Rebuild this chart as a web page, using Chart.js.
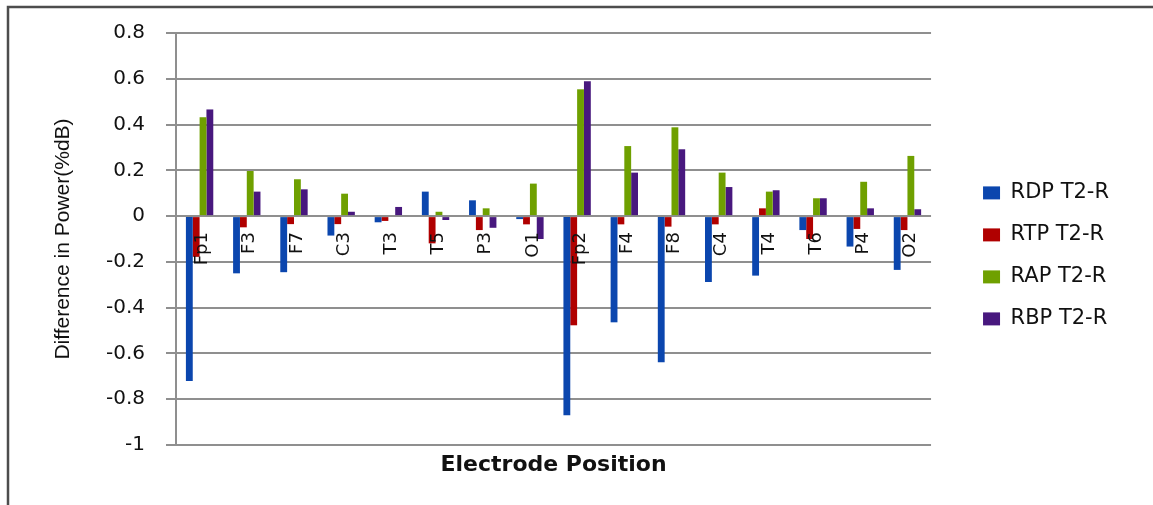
<!DOCTYPE html>
<html>
<head>
<meta charset="utf-8">
<title>Difference in Power by Electrode Position</title>
<script src="https://cdn.jsdelivr.net/npm/chart.js@4/dist/chart.umd.min.js"></script>
<style>
  html, body { margin: 0; padding: 0; background: #ffffff; }
  #wrap { width: 1153px; height: 505px; }
</style>
</head>
<body>
<div id="wrap"><canvas id="chart" width="1153" height="505"></canvas></div>
<script>
// Electrode positions along the category axis
const categories = ['Fp1', 'F3', 'F7', 'C3', 'T3', 'T5', 'P3', 'O1',
                    'Fp2', 'F4', 'F8', 'C4', 'T4', 'T6', 'P4', 'O2'];

// Difference in power (%dB), T2 relative to rest, per band
const rdpValues = [-0.72, -0.25, -0.245, -0.085, -0.027, 0.107, 0.069, -0.013,
                   -0.87, -0.464, -0.638, -0.288, -0.26, -0.061, -0.133, -0.235];
const rtpValues = [-0.178, -0.049, -0.035, -0.035, -0.021, -0.119, -0.061, -0.036,
                   -0.477, -0.036, -0.046, -0.036, 0.034, -0.1, -0.056, -0.061];
const rapValues = [0.432, 0.197, 0.161, 0.098, 0, 0.019, 0.034, 0.142,
                   0.554, 0.306, 0.388, 0.19, 0.107, 0.078, 0.15, 0.263];
const rbpValues = [0.466, 0.107, 0.117, 0.019, 0.04, -0.017, -0.051, -0.1,
                   0.589, 0.19, 0.292, 0.127, 0.113, 0.078, 0.034, 0.03];

const seriesNames = ['RDP T2-R', 'RTP T2-R', 'RAP T2-R', 'RBP T2-R'];
const seriesColors = ['#0B46AE', '#B00000', '#6FA000', '#48187E'];

// Value axis ticks
const yTickValues = [-1, -0.8, -0.6, -0.4, -0.2, 0, 0.2, 0.4, 0.6, 0.8];

const gridColor = '#8f8f8f';

// Outer frame along the top and left edges
const framePlugin = {
  id: 'frame',
  beforeDraw(chart) {
    const ctx = chart.ctx;
    ctx.save();
    ctx.fillStyle = '#ffffff';
    ctx.fillRect(0, 0, chart.width, chart.height);
    ctx.strokeStyle = '#4d4d4d';
    ctx.lineWidth = 2.5;
    ctx.beginPath();
    ctx.moveTo(8, chart.height);
    ctx.lineTo(8, 7);
    ctx.lineTo(chart.width, 7);
    ctx.stroke();
    ctx.restore();
  }
};

// Category names written vertically just under the zero line
const zeroLabelsPlugin = {
  id: 'zeroLabels',
  afterDatasetsDraw(chart) {
    const ctx = chart.ctx;
    const xs = chart.scales.x;
    const ys = chart.scales.y;
    const y0 = ys.getPixelForValue(0);
    ctx.save();
    ctx.font = '18px "DejaVu Sans", sans-serif';
    ctx.fillStyle = '#111111';
    ctx.textAlign = 'right';
    ctx.textBaseline = 'middle';
    chart.data.labels.forEach((lab, i) => {
      const x = xs.getPixelForValue(i);
      ctx.save();
      ctx.translate(x + 3, y0 + 16);
      ctx.rotate(-Math.PI / 2);
      ctx.fillText(lab, 0, 0);
      ctx.restore();
    });
    ctx.restore();
  }
};

const seriesData = [rdpValues, rtpValues, rapValues, rbpValues];

new Chart(document.getElementById('chart'), {
  type: 'bar',
  data: {
    labels: categories,
    datasets: seriesData.map((vals, k) => ({
      label: seriesNames[k],
      data: vals,
      backgroundColor: seriesColors[k],
      borderWidth: 0,
      barPercentage: 1.0,
      categoryPercentage: 0.58
    }))
  },
  options: {
    responsive: false,
    animation: false,
    devicePixelRatio: 1,
    layout: { padding: { left: 40, top: 33, right: 34, bottom: 0 } },
    plugins: {
      tooltip: { enabled: false },
      legend: {
        position: 'right',
        align: 'start',
        title: { display: true, text: '', padding: { top: 114, bottom: 0 }, font: { size: 12 } },
        labels: {
          boxWidth: 17,
          boxHeight: 13,
          padding: 21,
          color: '#111111',
          font: { family: '"DejaVu Sans", sans-serif', size: 21 }
        }
      }
    },
    scales: {
      x: {
        type: 'category',
        position: 'bottom',
        grid: { display: false },
        border: { display: false },
        ticks: { display: false },
        title: {
          display: true,
          text: 'Electrode Position',
          color: '#111111',
          font: { family: '"DejaVu Sans", sans-serif', size: 22, weight: 'bold' },
          padding: { top: 0, bottom: 27 }
        },
        afterFit(scale) { scale.height = 60; }
      },
      y: {
        type: 'linear',
        position: 'left',
        min: -1,
        max: 0.8,
        afterBuildTicks(scale) {
          scale.ticks = yTickValues.map(v => ({ value: v }));
        },
        ticks: {
          padding: 21,
          color: '#111111',
          font: { family: '"DejaVu Sans", sans-serif', size: 20 },
          callback: v => String(Number(v.toFixed(1)))
        },
        grid: {
          color: gridColor,
          lineWidth: 2,
          tickLength: 10,
          drawTicks: true
        },
        border: { display: true, color: gridColor, width: 2 },
        title: {
          display: true,
          text: 'Difference in Power(%dB)',
          color: '#111111',
          font: { family: '"Liberation Sans", Arial, sans-serif', size: 21 },
          padding: { top: 11, bottom: 0 }
        },
        afterFit(scale) { scale.width = 136; }
      },
      gap: {
        type: 'linear',
        position: 'right',
        display: true,
        grid: { display: false },
        border: { display: false },
        ticks: { display: false },
        afterFit(scale) { scale.width = 31; }
      }
    }
  },
  plugins: [framePlugin, zeroLabelsPlugin]
});
</script>
</body>
</html>
